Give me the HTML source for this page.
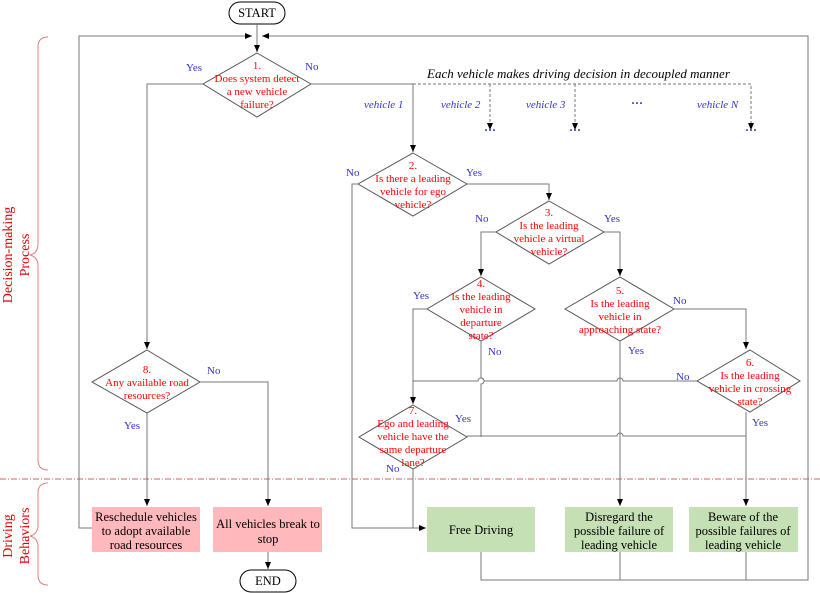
<!DOCTYPE html>
<html><head><meta charset="utf-8"><style>
html,body{margin:0;padding:0;background:#fff}
svg{display:block}
text{font-family:"Liberation Serif",serif}
.r{fill:#ff0000;font-size:11px;text-anchor:middle}
.b{fill:#3333cc;font-size:11px}
.k{fill:#000;font-size:12.5px;text-anchor:middle}
.l{stroke:#777;stroke-width:1;fill:none}
.d{stroke:#555;stroke-width:1;fill:#fff}
</style></head><body>
<svg width="820" height="593" viewBox="0 0 820 593" xmlns="http://www.w3.org/2000/svg">
<defs><marker id="a" markerWidth="8" markerHeight="8" refX="7" refY="4" orient="auto" markerUnits="userSpaceOnUse"><path d="M0,1 L7,4 L0,7 z" fill="#000"/></marker></defs>

<!-- separator -->
<line x1="0" y1="479" x2="820" y2="479" stroke="#d06060" stroke-dasharray="6,2,1,2" stroke-width="1"/>
<!-- braces -->
<path d="M48,37 Q38,37 38,47 L38,244 Q38,253 30,255 Q38,257 38,266 L38,460 Q38,470 48,470" fill="none" stroke="#e08080"/>
<path d="M48,483 Q38,483 38,493 L38,525 Q38,534 30,536 Q38,538 38,547 L38,575 Q38,585 48,585" fill="none" stroke="#e08080"/>
<text transform="translate(12,255) rotate(-90)" text-anchor="middle" fill="#dd0000" font-size="14">Decision-making</text>
<text transform="translate(29,255) rotate(-90)" text-anchor="middle" fill="#dd0000" font-size="14">Process</text>
<text transform="translate(12,536) rotate(-90)" text-anchor="middle" fill="#dd0000" font-size="14">Driving</text>
<text transform="translate(29,536) rotate(-90)" text-anchor="middle" fill="#dd0000" font-size="14">Behaviors</text>

<!-- START -->
<rect x="229" y="2" width="56" height="22" rx="11" fill="#fff" stroke="#000"/>
<text x="257" y="17" class="k" font-size="12">START</text>
<line x1="257" y1="24" x2="257" y2="36" class="l"/>
<!-- top loop -->
<polyline points="92,528 79,528 79,36 252,36" class="l" marker-end="url(#a)"/>
<polyline points="481,552 481,580 808,580 808,36 262,36" class="l" marker-end="url(#a)"/>
<line x1="620" y1="552" x2="620" y2="580" class="l"/>
<line x1="746" y1="552" x2="746" y2="580" class="l"/>
<line x1="257" y1="36" x2="257" y2="52" class="l" marker-end="url(#a)"/>

<!-- D1 -->
<polygon points="257,53 311,84 257,117 203,84" class="d"/>
<text class="r"><tspan x="257" y="69">1.</tspan><tspan x="257" y="82">Does system detect</tspan><tspan x="257" y="95">a new vehicle</tspan><tspan x="257" y="108">failure?</tspan></text>
<text x="186" y="71" class="b">Yes</text><text x="305" y="70" class="b">No</text>
<polyline points="203,84 147,84 147,349" class="l" marker-end="url(#a)"/>
<polyline points="311,84 413,84 413,152" class="l" marker-end="url(#a)"/>
<polyline points="413,84 751,84 751,130" fill="none" stroke="#777" stroke-dasharray="3,2" marker-end="url(#a)"/>
<line x1="490" y1="84" x2="490" y2="130" stroke="#777" stroke-dasharray="3,2" marker-end="url(#a)"/>
<line x1="575" y1="84" x2="575" y2="130" stroke="#777" stroke-dasharray="3,2" marker-end="url(#a)"/>
<text x="427" y="78" font-size="13" font-style="italic" fill="#000">Each vehicle makes driving decision in decoupled manner</text>
<g class="b" font-style="italic" font-size="10.5"><text x="364" y="108">vehicle 1</text><text x="441" y="108">vehicle 2</text><text x="526" y="108">vehicle 3</text><text x="697" y="108">vehicle N</text></g>
<g fill="#2233aa" font-size="12" font-weight="bold" text-anchor="middle"><text x="490" y="134">···</text><text x="575" y="134">···</text><text x="751" y="134">···</text><text x="637" y="107">···</text></g>

<!-- D2 -->
<polygon points="413,153 467,184 413,216 358,184" class="d"/>
<text class="r"><tspan x="413" y="169">2.</tspan><tspan x="413" y="182">Is there a leading</tspan><tspan x="413" y="195">vehicle for ego</tspan><tspan x="413" y="208">vehicle?</tspan></text>
<text x="346" y="176" class="b">No</text><text x="466" y="176" class="b">Yes</text>
<polyline points="358,184 352,184 352,528 426,528" class="l" marker-end="url(#a)"/>
<polyline points="467,184 549,184 549,200" class="l" marker-end="url(#a)"/>

<!-- D3 -->
<polygon points="549,201 604,232 549,264 496,232" class="d"/>
<text class="r"><tspan x="549" y="216">3.</tspan><tspan x="549" y="229">Is the leading</tspan><tspan x="549" y="242">vehicle a virtual</tspan><tspan x="549" y="255">vehicle?</tspan></text>
<text x="475" y="222" class="b">No</text><text x="604" y="222" class="b">Yes</text>
<polyline points="496,232 481,232 481,276" class="l" marker-end="url(#a)"/>
<polyline points="604,232 620,232 620,276" class="l" marker-end="url(#a)"/>

<!-- D4 -->
<polygon points="481,277 535,309 481,341 427,309" class="d"/>
<text class="r"><tspan x="481" y="287">4.</tspan><tspan x="481" y="300">Is the leading</tspan><tspan x="481" y="313">vehicle in</tspan><tspan x="481" y="326">departure</tspan><tspan x="481" y="339">state?</tspan></text>
<text x="413" y="299" class="b">Yes</text><text x="488" y="355" class="b">No</text>
<polyline points="427,309 413,309 413,404" class="l" marker-end="url(#a)"/>
<path d="M481,341 L481,378 A3,3 0 0 1 481,384 L481,437" class="l"/>

<!-- D5 -->
<polygon points="620,277 674,309 620,341 565,309" class="d"/>
<text class="r"><tspan x="620" y="294">5.</tspan><tspan x="620" y="307">Is the leading</tspan><tspan x="620" y="320">vehicle in</tspan><tspan x="620" y="333">approaching state?</tspan></text>
<text x="628" y="354" class="b">Yes</text><text x="673" y="304" class="b">No</text>
<polyline points="674,309 746,309 746,349" class="l" marker-end="url(#a)"/>
<line x1="620" y1="341" x2="620" y2="506" class="l" marker-end="url(#a)"/>

<!-- 6 No line with hops -->
<path d="M697,381 L623,381 A3,3 0 0 0 617,381 L484,381 A3,3 0 0 0 478,381 L413,381" class="l"/>
<!-- 7 Yes line -->
<path d="M467,436 L617,436 A3,3 0 0 1 623,436 L746,436" class="l"/>

<!-- D6 -->
<polygon points="750,350 800,381 750,412 697,381" class="d"/>
<text class="r"><tspan x="750" y="366">6.</tspan><tspan x="750" y="379">Is the leading</tspan><tspan x="750" y="392">vehicle in crossing</tspan><tspan x="750" y="405">state?</tspan></text>
<text x="676" y="380" class="b">No</text><text x="752" y="426" class="b">Yes</text>
<line x1="746" y1="412" x2="746" y2="506" class="l" marker-end="url(#a)"/>

<!-- D7 -->
<polygon points="413,405 467,437 413,469 359,437" class="d"/>
<text class="r"><tspan x="413" y="414">7.</tspan><tspan x="413" y="427">Ego and leading</tspan><tspan x="413" y="440">vehicle have the</tspan><tspan x="413" y="453">same departure</tspan><tspan x="413" y="466">lane?</tspan></text>
<text x="455" y="422" class="b">Yes</text><text x="386" y="472" class="b">No</text>
<line x1="413" y1="469" x2="413" y2="528" class="l"/>

<!-- D8 -->
<polygon points="147,350 200,382 147,413 92,382" class="d"/>
<text class="r"><tspan x="147" y="373">8.</tspan><tspan x="147" y="386">Any available road</tspan><tspan x="147" y="399">resources?</tspan></text>
<text x="207" y="374" class="b">No</text><text x="124" y="429" class="b">Yes</text>
<polyline points="200,382 268,382 268,506" class="l" marker-end="url(#a)"/>
<line x1="147" y1="413" x2="147" y2="506" class="l" marker-end="url(#a)"/>

<!-- boxes -->
<rect x="92" y="507" width="108" height="45" fill="#ffb8bc"/>
<text class="k"><tspan x="146" y="521">Reschedule vehicles</tspan><tspan x="146" y="535">to adopt available</tspan><tspan x="146" y="549">road resources</tspan></text>
<rect x="213" y="507" width="109" height="45" fill="#ffb8bc"/>
<text class="k"><tspan x="268" y="528">All vehicles break to</tspan><tspan x="268" y="543">stop</tspan></text>
<rect x="427" y="507" width="108" height="45" fill="#c5e0b4"/>
<text x="481" y="534" class="k">Free Driving</text>
<rect x="565" y="507" width="108" height="45" fill="#c5e0b4"/>
<text class="k"><tspan x="619" y="521">Disregard the</tspan><tspan x="619" y="535">possible failure of</tspan><tspan x="619" y="549">leading vehicle</tspan></text>
<rect x="689" y="507" width="109" height="45" fill="#c5e0b4"/>
<text class="k"><tspan x="743" y="521">Beware of the</tspan><tspan x="743" y="535">possible failures of</tspan><tspan x="743" y="549">leading vehicle</tspan></text>

<!-- END -->
<line x1="268" y1="552" x2="268" y2="569" class="l" marker-end="url(#a)"/>
<rect x="240" y="570" width="56" height="22" rx="11" fill="#fff" stroke="#000"/>
<text x="268" y="585" class="k" font-size="12">END</text>
</svg>
</body></html>
